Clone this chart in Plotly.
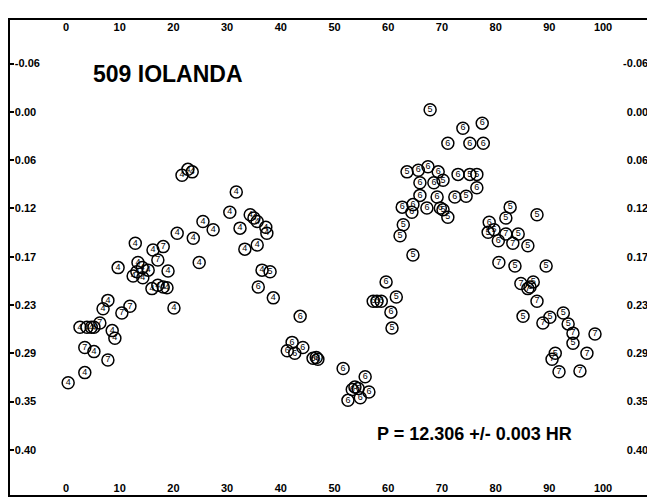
import plotly.graph_objects as go

# Rotational phase (percent) of each observation
phase = [0.4, 3.5, 5.2, 2.6, 3.9, 4.7, 5.2, 6.9, 7.8, 8.6, 9.1, 9.7, 12.5, 13.4, 14.2, 15.3, 14.3, 13.2,
         19.0, 16.0, 17.1, 18.1, 18.8, 20.1, 12.9, 16.2, 20.7, 23.7, 24.8, 25.5, 27.4, 21.6, 22.7, 23.5,
         31.7, 30.5, 32.4, 34.3, 35.0, 35.6, 37.2, 37.4, 33.3, 35.6, 36.5, 38.6,
         18.1, 17.1, 11.9, 10.4, 6.3, 3.5, 7.8,
         38.0,
         35.8, 43.6, 42.1, 41.2, 42.6, 44.1, 46.0, 46.9, 46.6, 51.6, 55.7, 53.8, 53.3, 54.4, 56.4, 52.5, 54.8,
         59.6, 57.2, 57.9, 58.7, 61.5, 60.5, 60.7, 64.6, 62.2, 62.8, 71.1, 62.6, 64.6, 64.4, 67.2, 69.7, 70.2,
         65.9, 69.1, 72.4, 74.5, 76.5, 65.9, 68.5, 70.2, 63.5, 65.6, 67.4, 69.3, 73.0, 75.2, 76.5,
         67.8, 73.9, 77.5, 71.1, 75.2, 77.7,
         82.7, 81.9, 87.7, 78.8, 78.6, 79.7, 81.9, 84.2, 80.5, 83.2, 86.0, 80.6, 83.6, 89.4,
         84.7, 87.0, 86.4, 86.0, 87.7, 85.1, 88.8, 90.1, 92.6, 93.5, 94.4, 94.4, 98.5, 91.1, 90.5, 97.0,
         91.8, 95.7]

# Relative magnitude
mag = [0.320, 0.308, 0.283, 0.254, 0.254, 0.254, 0.254, 0.232, 0.222, 0.258, 0.267, 0.183, 0.193, 0.177,
       0.183, 0.186, 0.195, 0.188, 0.187, 0.208, 0.204, 0.206, 0.207, 0.231, 0.154, 0.162, 0.142, 0.148,
       0.177, 0.128, 0.138, 0.073, 0.066, 0.069, 0.093, 0.117, 0.136, 0.120, 0.124, 0.128, 0.135, 0.142,
       0.161, 0.156, 0.186, 0.219,
       0.158, 0.174, 0.229, 0.237, 0.249, 0.278, 0.293,
       0.188,
       0.206, 0.241, 0.272, 0.282, 0.285, 0.278, 0.291, 0.292, 0.290, 0.303, 0.313, 0.325, 0.328, 0.327,
       0.331, 0.341, 0.338,
       0.200, 0.223, 0.223, 0.223, 0.218, 0.236, 0.255, 0.168, 0.145, 0.132, 0.123, 0.111, 0.108, 0.117,
       0.112, 0.112, 0.114, 0.097, 0.099, 0.099, 0.098, 0.088, 0.082, 0.082, 0.079, 0.069, 0.067, 0.063,
       0.069, 0.072, 0.072, 0.072,
       -0.005, 0.017, 0.011, 0.035, 0.035, 0.035,
       0.111, 0.124, 0.120, 0.129, 0.141, 0.138, 0.143, 0.143, 0.151, 0.154, 0.157, 0.177, 0.181, 0.181,
       0.202, 0.200, 0.206, 0.208, 0.223, 0.241, 0.249, 0.242, 0.237, 0.250, 0.261, 0.273, 0.262, 0.285,
       0.292, 0.285, 0.307, 0.306]

# Observing session number of each point
session = ["4"] * 46 + ["7"] * 7 + ["5"] + ["6"] * 17 + \
          ["6", "6", "6", "6", "5", "6", "5", "5", "5", "5", "5", "6", "6", "6", "6", "6", "5",
           "6", "6", "6", "5", "6", "6", "6", "5", "5", "6", "6", "6", "6", "5", "5",
           "5", "6", "6", "6", "6", "6",
           "5", "5", "5", "6", "5", "5", "7", "5", "6", "7", "5", "7", "5", "5",
           "7", "5", "6", "7", "7", "5", "7", "5", "5", "5", "7", "5", "7", "5", "7", "7",
           "7", "7"]

x_ticks = [0, 10, 20, 30, 40, 50, 60, 70, 80, 90, 100]
y_tickvals = [-0.06 + k * 0.0575 for k in range(9)]
y_ticktext = ["-0.06", "0.00", "0.06", "0.12", "0.17", "0.23", "0.29", "0.35", "0.40"]

title_text = "509 IOLANDA"
period_text = "P = 12.306 +/- 0.003 HR"

XR = [-10.43, 109.3]
YR = [0.4537, -0.1118]

FAM = "Liberation Sans, Arial, sans-serif"
tickfont = dict(family=FAM, size=11, color="black", weight="bold")

fig = go.Figure()
fig.add_trace(go.Scatter(
    x=phase, y=mag, text=session, mode="markers+text",
    marker=dict(symbol="circle-open", size=12, color="black", line=dict(width=1.5, color="black")),
    textposition="middle center",
    textfont=dict(family=FAM, size=9, color="black"),
    hoverinfo="skip", showlegend=False,
))
# empty trace so the mirrored (top / right) labelled axes are drawn
fig.add_trace(go.Scatter(x=[], y=[], xaxis="x2", yaxis="y2", mode="markers",
                         hoverinfo="skip", showlegend=False))

# page body has an 8px default margin, so the figure is sized to fit the window
fig.update_layout(
    width=647, height=489,
    margin=dict(l=2, r=2, t=12, b=2),
    paper_bgcolor="white", plot_bgcolor="white",
    showlegend=False,
    xaxis=dict(range=XR, tickvals=x_ticks, ticks="", ticklabelposition="inside", automargin=False,
               showgrid=False, zeroline=False, showline=True, linewidth=2, linecolor="black",
               mirror=True, tickfont=tickfont),
    xaxis2=dict(range=XR, tickvals=x_ticks, ticks="", ticklabelposition="inside", automargin=False,
                overlaying="x", side="top", anchor="y2",
                showgrid=False, zeroline=False, showline=False, tickfont=tickfont),
    yaxis=dict(range=YR, tickvals=y_tickvals, ticktext=y_ticktext, ticks="inside", ticklen=4,
               tickwidth=1.5, tickcolor="black", ticklabelposition="inside", automargin=False,
               showgrid=False, zeroline=False, showline=True, linewidth=2, linecolor="black",
               mirror=True, tickfont=tickfont),
    yaxis2=dict(range=YR, tickvals=y_tickvals, ticktext=y_ticktext, ticks="inside", ticklen=4,
                tickwidth=1.5, tickcolor="black", ticklabelposition="inside", automargin=False,
                overlaying="y", side="right", anchor="x2",
                showgrid=False, zeroline=False, showline=False, tickfont=tickfont),
)

fig.add_annotation(x=19.0, y=-0.047, xref="x", yref="y", text=title_text, showarrow=False,
                   font=dict(family=FAM, size=23, color="black", weight="bold"))
fig.add_annotation(x=76.1, y=0.381, xref="x", yref="y", text=period_text, showarrow=False,
                   font=dict(family=FAM, size=18, color="black", weight="bold"))

fig.write_html("out.html")
